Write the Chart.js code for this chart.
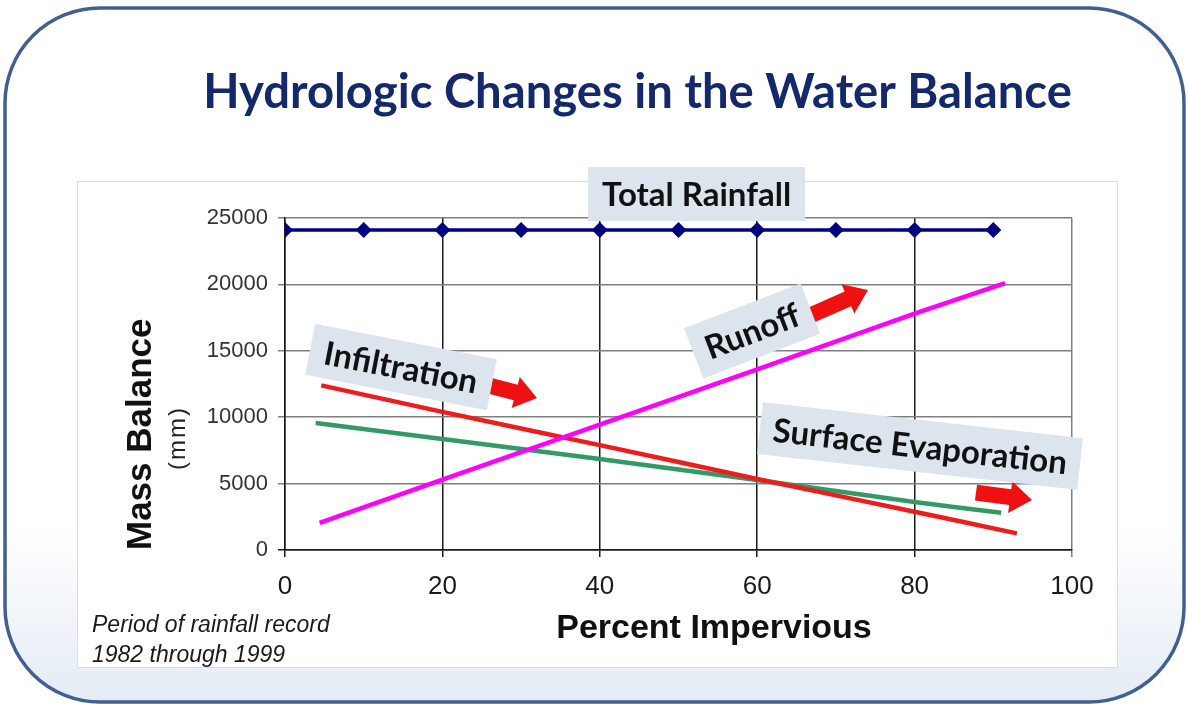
<!DOCTYPE html>
<html><head><meta charset="utf-8">
<style>html,body{margin:0;padding:0;background:#fff;overflow:hidden;} canvas{display:block;}</style>
<script src="https://cdn.jsdelivr.net/npm/chart.js@4.4.1/dist/chart.umd.min.js"></script>
</head><body>
<canvas id="c" width="1188" height="704"></canvas>
<script>
// ---------- texts ----------
const chartTitle = 'Hydrologic Changes in the Water Balance';
const xTitle = 'Percent Impervious';
const yTitle = 'Mass Balance';
const yUnit = '(mm)';
const footnote = ['Period of rainfall record', '1982 through 1999'];
const seriesNames = ['Total Rainfall', 'Runoff', 'Infiltration', 'Surface Evaporation'];

// ---------- ticks ----------
const xTicks = [0, 20, 40, 60, 80, 100];
const yTicks = [0, 5000, 10000, 15000, 20000, 25000];

// ---------- data ----------
const rainfallPct = [0, 10, 20, 30, 40, 50, 60, 70, 80, 90];
const totalRainfall = [24100, 24100, 24100, 24100, 24100, 24100, 24100, 24100, 24100, 24100];
const runoffPct = [4.4, 20, 40, 60, 80, 91.5];
const runoff = [2050, 5300, 9450, 13600, 17800, 20100];
const infiltrationPct = [4.6, 20, 40, 60, 80, 93];
const infiltration = [12400, 10400, 7900, 5350, 2880, 1250];
const evaporationPct = [3.9, 20, 40, 60, 80, 91];
const evaporation = [9560, 8360, 6850, 5270, 3620, 2800];

const ARIAL = "'Liberation Sans', Arial, sans-serif";
const CALIBRI = "Lato, 'Open Sans', sans-serif";

function pts(xs, ys) { return xs.map((x, i) => ({x: x, y: ys[i]})); }

// annotation callouts, positioned in data units
const callouts = [
  {text: seriesNames[0], x: 52.3, y: 26800, angle: 0, w: 217, h: 54},
  {text: seriesNames[2], x: 14.74, y: 13780, angle: 11, w: 185, h: 52},
  {text: seriesNames[1], x: 59.34, y: 16490, angle: -21, w: 125, h: 54},
  {text: seriesNames[3], x: 80.69, y: 7830, angle: 6.4, w: 322, h: 52}
];
const arrows = [
  {x1: 24.2, y1: 12650, x2: 32.02, y2: 11446},
  {x1: 66.5, y1: 17600, x2: 74.08, y2: 19578},
  {x1: 87.8, y1: 4320, x2: 94.92, y2: 3765}
];

function drawArrow(ctx, x1, y1, x2, y2) {
  const a = Math.atan2(y2 - y1, x2 - x1), L = Math.hypot(x2 - x1, y2 - y1);
  const sw = 8, hw = 16, hl = 22;
  ctx.save(); ctx.translate(x1, y1); ctx.rotate(a);
  ctx.beginPath();
  ctx.moveTo(0, -sw); ctx.lineTo(L - hl, -sw); ctx.lineTo(L - hl, -hw); ctx.lineTo(L, 0);
  ctx.lineTo(L - hl, hw); ctx.lineTo(L - hl, sw); ctx.lineTo(0, sw); ctx.closePath();
  ctx.fillStyle = '#ee1111'; ctx.fill();
  ctx.restore();
}

function roundRectPath(ctx, x, y, w, h, r) {
  ctx.beginPath();
  ctx.moveTo(x + r, y); ctx.lineTo(x + w - r, y); ctx.arcTo(x + w, y, x + w, y + r, r);
  ctx.lineTo(x + w, y + h - r); ctx.arcTo(x + w, y + h, x + w - r, y + h, r);
  ctx.lineTo(x + r, y + h); ctx.arcTo(x, y + h, x, y + h - r, r);
  ctx.lineTo(x, y + r); ctx.arcTo(x, y, x + r, y, r); ctx.closePath();
}

const decor = {
  id: 'decor',
  beforeDraw(chart) {
    const ctx = chart.ctx;
    ctx.save();
    ctx.fillStyle = '#ffffff'; ctx.fillRect(0, 0, chart.width, chart.height);
    roundRectPath(ctx, 5, 8, 1179, 694, 95);
    const g = ctx.createLinearGradient(0, 0, 0, 704);
    g.addColorStop(0, '#ffffff'); g.addColorStop(0.75, '#ffffff'); g.addColorStop(1, '#e3ebf5');
    ctx.fillStyle = g; ctx.fill();
    ctx.lineWidth = 3.5; ctx.strokeStyle = '#41608f'; ctx.stroke();
    ctx.fillStyle = '#ffffff'; ctx.fillRect(77, 181, 1040, 486);
    ctx.lineWidth = 1; ctx.strokeStyle = '#dcdcdc'; ctx.strokeRect(77.5, 181.5, 1040, 486);
    ctx.restore();
  },
  afterDraw(chart) {
    const ctx = chart.ctx, xs = chart.scales.x, ys = chart.scales.y;
    ctx.save();
    // main title
    ctx.font = 'bold 100px ' + CALIBRI;
    const tw = ctx.measureText(chartTitle).width;
    const ts = 100 * 869 / tw;
    ctx.font = 'bold ' + ts.toFixed(2) + 'px ' + CALIBRI;
    ctx.fillStyle = '#13296b'; ctx.textAlign = 'center'; ctx.textBaseline = 'alphabetic';
    ctx.fillText(chartTitle, 637.5, 108);
    // x title
    ctx.font = 'bold 34px ' + ARIAL; ctx.fillStyle = '#111';
    ctx.fillText(xTitle, 714, 638);
    // y unit
    ctx.save(); ctx.translate(178, 438); ctx.rotate(-Math.PI / 2);
    ctx.font = '24px ' + ARIAL; ctx.fillStyle = '#222'; ctx.textBaseline = 'middle';
    ctx.letterSpacing = '2px';
    ctx.fillText(yUnit, 0, 0);
    ctx.restore();
    // footnote
    ctx.font = 'italic 23px ' + ARIAL; ctx.fillStyle = '#1a1a1a'; ctx.textAlign = 'left';
    ctx.fillText(footnote[0], 92, 632);
    ctx.fillText(footnote[1], 92, 662);
    // arrows
    arrows.forEach(a => drawArrow(ctx, xs.getPixelForValue(a.x1), ys.getPixelForValue(a.y1),
      xs.getPixelForValue(a.x2), ys.getPixelForValue(a.y2)));
    // callouts
    callouts.forEach(c => {
      const cx = xs.getPixelForValue(c.x), cy = ys.getPixelForValue(c.y);
      ctx.save(); ctx.translate(cx, cy); ctx.rotate(c.angle * Math.PI / 180);
      ctx.fillStyle = '#dce4ee'; ctx.fillRect(-c.w / 2, -c.h / 2, c.w, c.h);
      ctx.font = 'bold 33px ' + CALIBRI; ctx.fillStyle = '#111';
      ctx.textAlign = 'center'; ctx.textBaseline = 'alphabetic';
      const cap = ctx.measureText('H').actualBoundingBoxAscent;
      ctx.fillText(c.text, 0, cap / 2);
      ctx.restore();
    });
    ctx.restore();
  }
};

new Chart(document.getElementById('c'), {
  type: 'line',
  data: {
    datasets: [
      {label: seriesNames[1], data: pts(runoffPct, runoff), borderColor: '#ff00ff', borderWidth: 4.5, pointRadius: 0, tension: 0},
      {label: seriesNames[2], data: pts(infiltrationPct, infiltration), borderColor: '#ee1c1c', borderWidth: 4.5, pointRadius: 0, tension: 0.2},
      {label: seriesNames[3], data: pts(evaporationPct, evaporation), borderColor: '#339966', borderWidth: 4.5, pointRadius: 0, tension: 0.2},
      {label: seriesNames[0], data: pts(rainfallPct, totalRainfall), borderColor: '#000080', backgroundColor: '#000080',
       borderWidth: 3.5, pointStyle: 'rectRot', pointRadius: 8, pointBackgroundColor: '#000080', pointBorderColor: '#000080', pointBorderWidth: 0}
    ]
  },
  options: {
    responsive: false, animation: false, devicePixelRatio: 1,
    layout: {padding: {left: 0, top: 218, right: 116, bottom: 94}},
    plugins: {legend: {display: false}, tooltip: {enabled: false}, title: {display: false}},
    scales: {
      x: {
        type: 'linear', min: 0, max: 100,
        afterBuildTicks: s => { s.ticks = xTicks.map(v => ({value: v})); },
        afterFit: s => { s.height = 60; },
        ticks: {font: {size: 26, family: ARIAL}, color: '#1a1a1a', padding: 14, maxRotation: 0},
        grid: {color: c => (c.tick && c.tick.value === 100) ? '#7f7f7f' : '#1a1a1a', lineWidth: 1.5, tickLength: 7, drawTicks: true},
        border: {color: '#1a1a1a', width: 1.5},
        title: {display: false}
      },
      y: {
        type: 'linear', min: 0, max: 25000,
        afterBuildTicks: s => { s.ticks = yTicks.map(v => ({value: v})); },
        afterFit: s => { s.width = 285; },
        ticks: {font: {size: 22, family: ARIAL}, color: '#333', padding: 10, callback: v => String(v)},
        grid: {color: c => (c.tick && c.tick.value === 0) ? '#1a1a1a' : '#7f7f7f', lineWidth: 1.5, tickLength: 7},
        border: {color: '#1a1a1a', width: 1.5},
        title: {display: true, text: yTitle, align: 'start', color: '#111', font: {size: 35, weight: 'bold', family: ARIAL}, padding: {top: 120, bottom: 0}}
      }
    }
  },
  plugins: [decor]
});
</script>
</body></html>
